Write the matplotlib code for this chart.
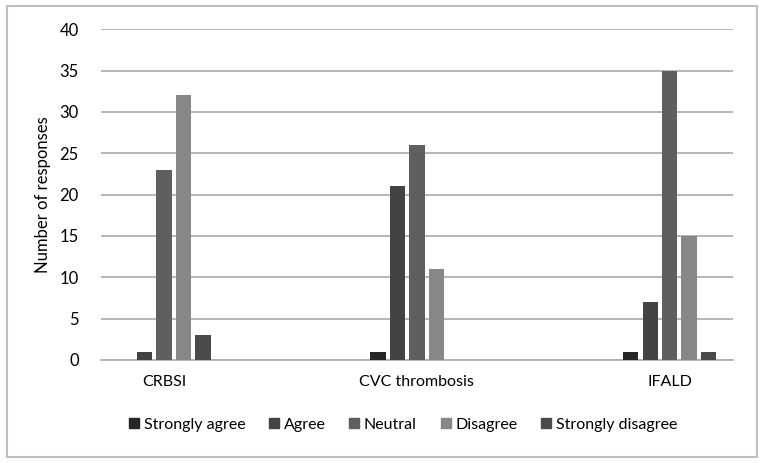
import matplotlib
matplotlib.use('Agg')
import matplotlib.pyplot as plt
import numpy as np
from matplotlib.patches import Rectangle
from matplotlib.lines import Line2D

categories = ['CRBSI', 'CVC thrombosis', 'IFALD']
responses = ['Strongly agree', 'Agree', 'Neutral', 'Disagree', 'Strongly disagree']
strongly_agree = [0, 1, 1]
agree = [1, 21, 7]
neutral = [23, 26, 35]
disagree = [32, 11, 15]
strongly_disagree = [3, 0, 1]
colors = ['#262626', '#434343', '#5f5f5f', '#878787', '#4a4a4a']

plt.rcParams['font.family'] = ['Lato', 'DejaVu Sans']

series = [strongly_agree, agree, neutral, disagree, strongly_disagree]
x = np.arange(len(categories))
step = 0.077
width = 0.061

fig = plt.figure(figsize=(7.65, 4.63), dpi=100)
ax = fig.add_axes([0.132, 0.2225, 0.826, 0.7145])
for i, vals in enumerate(series):
    ax.bar(x + (i - 2) * step, vals, width=width, color=colors[i], zorder=3)

ax.set_xlim(-0.25, 2.25)
ax.set_ylim(0, 40)
ax.set_yticks(range(0, 41, 5))
ax.set_xticks(x)
ax.set_xticklabels(categories, fontsize=11.5)
ax.tick_params(axis='y', labelsize=12, length=0, pad=16)
ax.tick_params(axis='x', length=0, pad=11)
ax.yaxis.grid(True, color='#b0b0b0', linewidth=1.3, zorder=0)
for s in ['left', 'right', 'top']:
    ax.spines[s].set_visible(False)
ax.spines['bottom'].set_color('#b0b0b0')
ax.spines['bottom'].set_linewidth(1.3)
ax.set_ylabel('Number of responses', fontsize=12, labelpad=6)

handles = [Line2D([], [], marker='s', linestyle='', color=c, markersize=7) for c in colors]
fig.legend(handles, responses, loc='center', bbox_to_anchor=(0.525, 0.083), ncol=5,
           frameon=False, fontsize=11.5, handletextpad=0.1, columnspacing=1.3,
           handlelength=1.0)

fig.patches.append(Rectangle((0.009, 0.013), 0.981, 0.975, transform=fig.transFigure,
                             fill=False, edgecolor='#bfbfbf', linewidth=1.5))

fig.savefig('out.png', dpi=100)
